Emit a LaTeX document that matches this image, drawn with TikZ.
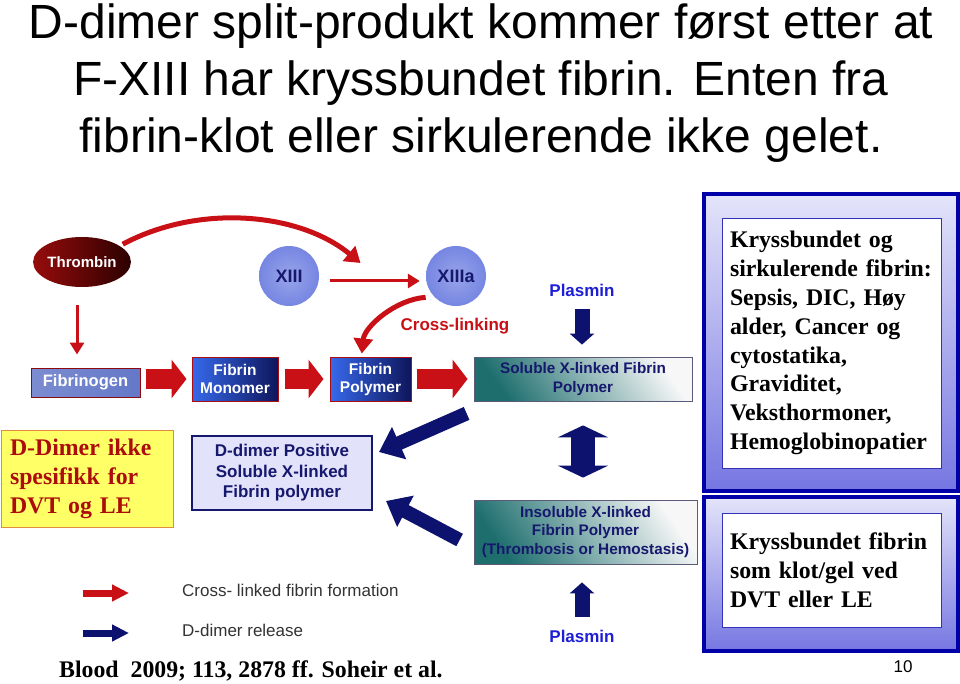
\documentclass[tikz,border=0pt]{standalone}
\usepackage{fontspec}
\setmainfont{Liberation Serif}
\setsansfont{Liberation Sans}
\usepackage{tikz}
\usetikzlibrary{calc, shapes.geometric, positioning, arrows.meta}
\definecolor{CrossRed}{RGB}{200, 16, 22}
\definecolor{ReleaseNavy}{RGB}{12, 18, 110}
\definecolor{ThrombinRed}{RGB}{150, 12, 12}
\definecolor{ThrombinDark}{RGB}{45, 0, 0}
\definecolor{FibrinogenBlue}{RGB}{100, 120, 200}
\definecolor{MonomerBlue}{RGB}{55, 105, 235}
\definecolor{MonomerDark}{RGB}{14, 22, 92}
\definecolor{FactorBlue}{RGB}{118, 134, 226}
\definecolor{LabelNavy}{RGB}{22, 24, 110}
\definecolor{PlasminBlue}{RGB}{30, 30, 215}
\definecolor{TealDeep}{RGB}{30, 110, 110}
\definecolor{PaleLilac}{RGB}{226, 226, 250}
\definecolor{NoteYellow}{RGB}{255, 255, 102}
\definecolor{NoteEdge}{RGB}{225, 140, 60}
\definecolor{NoteRed}{RGB}{172, 12, 12}
\definecolor{PanelEdge}{RGB}{0, 0, 168}
\definecolor{PanelTop}{RGB}{228, 228, 250}
\definecolor{PanelBottom}{RGB}{118, 118, 226}

\begin{document}
\begin{tikzpicture}[x=1pt, y=-1pt,
    every node/.style={inner sep=0pt, align=center},
    fibrinbox/.style={draw=CrossRed!85!black, line width=1pt, left color=MonomerBlue, right color=MonomerDark,
        text=white, font=\sffamily\bfseries\fontsize{15.5}{18}\selectfont, minimum height=44pt},
    xlinkbox/.style={draw=LabelNavy!35!gray, line width=0.8pt, top color=white!94!gray, middle color=TealDeep!45!white,
        bottom color=TealDeep, shading angle=-55, text=LabelNavy, font=\sffamily\bfseries\fontsize{15.3}{18.5}\selectfont},
    factor/.style={circle, minimum size=60pt, inner color=FactorBlue!75!white, outer color=FactorBlue,
        text=LabelNavy, font=\sffamily\bfseries\fontsize{18}{20}\selectfont},
    plasmin/.style={text=PlasminBlue, font=\sffamily\bfseries\fontsize{17}{20}\selectfont},
    panel/.style={draw=PanelEdge, line width=4pt, top color=PanelTop, bottom color=PanelBottom, minimum width=254pt},
    innerpanel/.style={draw=PanelEdge!80!white, line width=0.8pt, fill=white, align=left, inner xsep=8pt,
        text width=203pt, font=\bfseries\fontsize{23.8}{28.9}\selectfont},
    legendtext/.style={anchor=west, text=black!80, font=\sffamily\fontsize{17}{20}\selectfont},
    crossblock/.style={CrossRed, line width=20pt, -{Triangle[length=15pt, width=38pt]}},
    releaseblock/.style={ReleaseNavy, line width=14pt, -{Triangle[length=22pt, width=34pt]}},
    thinred/.style={CrossRed, line width=3pt, -{Triangle[length=12pt, width=14pt]}},
    curvered/.style={CrossRed, line width=5pt, -{Triangle[length=15pt, width=19pt]}},
    plasminblock/.style={ReleaseNavy, line width=15pt, -{Triangle[length=11pt, width=24pt]}},
]
\useasboundingbox (0,0) rectangle (960,684);

% Tittel
\node[anchor=north, font=\sffamily\fontsize{48}{57}\selectfont] (title) at (481,4)
    {D-dimer split-produkt kommer først etter at\\F-XIII har kryssbundet fibrin. Enten fra\\fibrin-klot eller sirkulerende ikke gelet.};

% Koagulasjon
\node[ellipse, minimum width=92pt, minimum height=50pt, left color=ThrombinRed, right color=ThrombinDark,
    text=white, font=\sffamily\bfseries\fontsize{15}{17}\selectfont] (thrombin) at (82,262) {Thrombin};
\node[draw=CrossRed!70!black, line width=1pt, minimum width=109pt, minimum height=29pt,
    left color=FibrinogenBlue!85!white, right color=FibrinogenBlue, text=white,
    font=\sffamily\bfseries\fontsize{16.5}{19}\selectfont] (fibrinogen) at (85.5,382.5) {Fibrinogen};
\node[fibrinbox, minimum width=86pt] (monomer) at (235,379) {Fibrin\\Monomer};
\node[fibrinbox, minimum width=81pt] (polymer) at (370.5,379) {Fibrin\\Polymer};
\node[xlinkbox, minimum width=218pt, minimum height=44pt] (soluble) at (583,379) {Soluble X-linked Fibrin\\Polymer};
\node[xlinkbox, minimum width=223pt, minimum height=64pt] (insoluble) at (585.5,532)
    {Insoluble X-linked\\Fibrin Polymer\\(Thrombosis or Hemostasis)};
\node[factor] (xiii) at (289,276) {XIII};
\node[factor] (xiiia) at (456,276) {XIIIa};
\node[text=CrossRed, font=\sffamily\bfseries\fontsize{17}{20}\selectfont] (crosslink) at (455,326) {Cross-linking};
\node[plasmin] (plasminA) at (582,290) {Plasmin};
\node[plasmin] (plasminB) at (582,636) {Plasmin};
\node[draw=LabelNavy, line width=2pt, fill=PaleLilac, minimum width=180pt, minimum height=74pt, text=LabelNavy,
    font=\sffamily\bfseries\fontsize{17}{20.5}\selectfont] (positive) at (282,473)
    {D-dimer Positive\\Soluble X-linked\\Fibrin polymer};
\node[draw=NoteEdge, line width=1pt, fill=NoteYellow, minimum height=97pt, inner xsep=9pt, text width=154pt,
    align=left, text=NoteRed, font=\bfseries\fontsize{23.8}{28.9}\selectfont] (note) at (87,478.5)
    {D-Dimer ikke\\spesifikk for\\DVT og LE};

% Rød: kryssbundet fibrin
\draw[thinred, shorten <=18pt, shorten >=13pt] ([xshift=-5pt]thrombin.south) -- ([xshift=-5pt]thrombin.south |- fibrinogen.north);
\draw[crossblock, shorten <=5pt, shorten >=5pt] (fibrinogen.east |- monomer) -- (monomer.west);
\draw[crossblock, shorten <=6pt, shorten >=6pt] (monomer) -- (polymer);
\draw[crossblock, shorten <=5pt, shorten >=6pt] (polymer) -- (soluble);
\draw[thinred, shorten <=11pt, shorten >=6pt] ([yshift=-5pt]xiii.east) -- ([yshift=-5pt]xiiia.west);
\draw[curvered] ([xshift=6pt]thrombin.north east) .. controls (200,203) and (300,213)
    .. ($(xiii.east)!0.5!(xiiia.west)+(-12,-13)$);
\draw[curvered, shorten >=3pt] ([xshift=-9pt]xiiia.south west) .. controls +(-30,2) and +(3,-30)
    .. ([xshift=-9pt]polymer.north);

% Blå: D-dimer frigjøring
\draw[plasminblock, shorten <=13pt, shorten >=12pt] (plasminA) -- (plasminA |- soluble.north);
\draw[plasminblock, shorten <=13pt, shorten >=18pt] (plasminB) -- (plasminB |- insoluble.south);
\draw[ReleaseNavy, line width=24pt, {Triangle[length=12pt, width=50pt]}-{Triangle[length=12pt, width=50pt]},
    shorten <=24pt, shorten >=22pt] (soluble.south) -- (soluble.south |- insoluble.north);
\draw[releaseblock] ($(soluble.south west)+(-7,12)$) -- ($(positive.north east)+(6,17)$);
\draw[releaseblock] ($(insoluble.west)+(-14,8)$) -- ($(positive.south east)+(13,-10)$);

% Forklaring
\coordinate (redtail) at (83,593);
\coordinate (redhead) at (129,593);
\coordinate (navytail) at (83,633);
\coordinate (navyhead) at (129,633);
\draw[CrossRed, line width=7pt, -{Triangle[length=17pt, width=16pt]}] (redtail) -- (redhead);
\draw[ReleaseNavy, line width=7pt, -{Triangle[length=17pt, width=16pt]}] (navytail) -- (navyhead);
\node[legendtext] (legcross) at (182,590) {Cross- linked fibrin formation};
\node[legendtext] (legrelease) at (182,630) {D-dimer release};
\node[anchor=base west, font=\bfseries\fontsize{23.8}{28}\selectfont] (source) at (59,677)
    {Blood\ \ 2009; 113, 2878 ff. Soheir et al.};

% Paneler til høyre
\node[panel, minimum height=297pt] (panelA) at (831,342.5) {};
\node[panel, minimum height=154pt] (panelB) at (831,574) {};
\node[innerpanel, minimum height=250pt] (infoA) at (831.5,343)
    {Kryssbundet og\\sirkulerende fibrin:\\Sepsis, DIC, Høy\\alder, Cancer og\\cytostatika,\\Graviditet,\\Veksthormoner,\\Hemoglobinopatier};
\node[innerpanel, minimum height=114pt] (infoB) at (831.5,570)
    {Kryssbundet fibrin\\som klot/gel ved\\DVT eller LE};
\node[font=\sffamily\fontsize{17}{20}\selectfont] (pageno) at (903,667) {10};
\end{tikzpicture}
\end{document}
